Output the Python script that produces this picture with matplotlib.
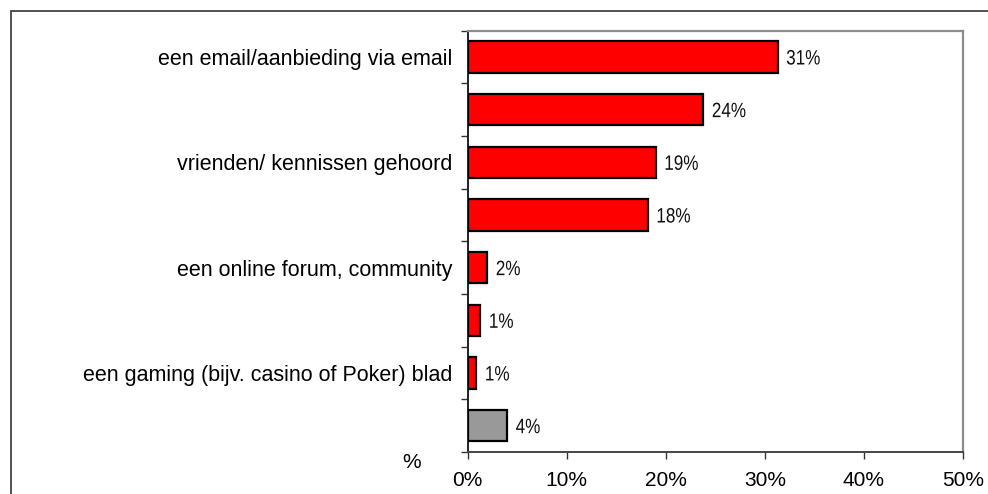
import matplotlib
matplotlib.use("Agg")
import matplotlib.pyplot as plt
from matplotlib.patches import Rectangle, PathPatch
from matplotlib.textpath import TextPath
from matplotlib.font_manager import FontProperties
from matplotlib.transforms import Affine2D, ScaledTranslation

# Survey answers: where respondents heard about the site (share of respondents, %)
categories = [
    "een email/aanbieding via email",
    "",
    "vrienden/ kennissen gehoord",
    "",
    "een online forum, community",
    "",
    "een gaming (bijv. casino of Poker) blad",
    "",
]
values = [31.3, 23.8, 19.0, 18.2, 2.0, 1.3, 0.9, 4.0]
bar_colors = ["#ff0000"] * 7 + ["#999999"]
x_ticks = [0, 10, 20, 30, 40, 50]
x_tick_labels = ["0%", "10%", "20%", "30%", "40%", "50%"]

plt.rcParams["font.family"] = ["Liberation Sans", "DejaVu Sans"]

W, H, DPI = 988, 494, 100
fig = plt.figure(figsize=(W / DPI, H / DPI), dpi=DPI)

# outer chart frame (left and top edges visible)
fig.patches.append(Rectangle((11 / W, -0.2), 1.2, 1.2 - 11 / H,
                             transform=fig.transFigure, fill=False,
                             edgecolor="#333333", linewidth=1.2))

left, right, top, bottom = 467.5, 963.0, 30.7, 452.0
ax = fig.add_axes([left / W, 1 - bottom / H, (right - left) / W, (bottom - top) / H])

n = len(values)
ypos = list(range(n))
ax.barh(ypos, values, height=0.59, color=bar_colors,
        edgecolor="black", linewidth=1.6, zorder=3)

ax.set_xlim(0, 50)
ax.set_ylim(n - 0.5, -0.5)

# value labels in a narrow face: horizontally condensed glyph outlines
label_font = FontProperties(family="Liberation Sans")
label_size = 15.0
px = DPI / 72.0
for y, v in zip(ypos, values):
    tp = TextPath((0, 0), f"{round(v):.0f}%", size=label_size, prop=label_font)
    tr = (Affine2D().scale(0.82 * px, px).translate(8.5, -0.358 * label_size * px)
          + ScaledTranslation(v, y, ax.transData))
    patch = PathPatch(tp, transform=tr, facecolor="#111111", edgecolor="none",
                      clip_on=False, zorder=4)
    ax.add_artist(patch)

ax.set_xticks(x_ticks)
ax.set_xticklabels(x_tick_labels, fontsize=15)
ax.set_yticks(ypos)
ax.set_yticklabels(categories, fontsize=15.5)
ax.tick_params(axis="y", which="major", length=0, pad=11)
ax.set_yticks([i - 0.5 for i in range(n + 1)], minor=True)
ax.tick_params(axis="y", which="minor", length=5, width=1, color="#333333", direction="out")
ax.tick_params(axis="x", length=5, width=1, color="#333333", direction="out", pad=9)

ax.spines["left"].set_color("#222222")
ax.spines["left"].set_linewidth(1.4)
ax.spines["bottom"].set_color("#444444")
ax.spines["bottom"].set_linewidth(1.4)
for s in ("top", "right"):
    ax.spines[s].set_color("#8c8c8c")
    ax.spines[s].set_linewidth(1.6)

fig.text(411.7 / W, 1 - 462 / H, "%", ha="center", va="center", fontsize=15)

fig.savefig("out.png", dpi=DPI)
